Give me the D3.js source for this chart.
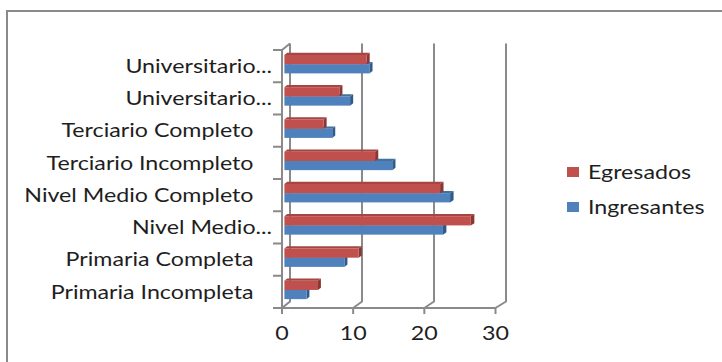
<!DOCTYPE html>
<html>
<head>
<meta charset="utf-8">
<script src="https://cdn.jsdelivr.net/npm/d3@7"></script>
<style>
  html, body { margin: 0; padding: 0; background: #fff; }
  svg { display: block; }
  text { font-family: Lato, "Open Sans", sans-serif; font-weight: 400; fill: #1e1e1e; }
</style>
</head>
<body>
<svg id="chart" width="722" height="362"></svg>
<script>
// Education level categories, listed bottom to top
const categories = [
  "Primaria Incompleta",
  "Primaria Completa",
  "Nivel Medio...",
  "Nivel Medio Completo",
  "Terciario Incompleto",
  "Terciario Completo",
  "Universitario...",
  "Universitario..."
];
const seriesNames = ["Egresados", "Ingresantes"];
const egresados   = [4.7, 10.4, 26.1, 21.8, 12.7, 5.5, 7.7, 11.5];
const ingresantes = [3.1, 8.4, 22.2, 23.2, 15.1, 6.7, 9.2, 11.9];
const xTicks = [0, 10, 20, 30];

const seriesColors = {
  Egresados:   { front: "#C0504D", top: "#A64542", side: "#8A3634" },
  Ingresantes: { front: "#4F81BD", top: "#44709F", side: "#2F5B8C" }
};
const values = { Egresados: egresados, Ingresantes: ingresantes };

const svg = d3.select("#chart");
const TEXT_SX = 1.255;     // horizontal text stretch
const FONT = 18.5;
const gridColor = "#8a8a8a";

// Outer chart frame
svg.append("rect")
  .attr("x", 7).attr("y", 11).attr("width", 760).attr("height", 400)
  .attr("fill", "none").attr("stroke", gridColor).attr("stroke-width", 2);

// Oblique 3D projection: front plane and back wall
const xFront = d3.scaleLinear().domain([0, 30]).range([282, 495.5]);
const xBack  = d3.scaleLinear().domain([0, 30]).range([290, 506]);
const DY = -6.5;
const px = (v, d) => xFront(v) * (1 - d) + xBack(v) * d;
const py = (yf, d) => yf + DY * d;

const y = d3.scaleBand().domain(d3.range(categories.length)).range([308, 50]);
const ySub = d3.scaleBand().domain(seriesNames).range([0, y.bandwidth()])
  .paddingInner(0).paddingOuter(0.75);

const yTop = 50, yBottom = 308;

const axes = svg.append("g")
  .attr("fill", "none").attr("stroke", gridColor).attr("stroke-width", 2)
  .attr("stroke-linejoin", "round");

// Back wall gridlines with floor diagonals and front ticks
xTicks.forEach(v => {
  axes.append("path").attr("d", d3.line()([
    [xBack(v), py(yTop, 1)],
    [xBack(v), py(yBottom, 1)],
    [xFront(v), yBottom],
    [xFront(v), yBottom + 6]
  ]));
});
// Floor front edge (value axis)
axes.append("line")
  .attr("x1", xFront(0)).attr("x2", xFront(30))
  .attr("y1", yBottom).attr("y2", yBottom);
// Category axis on the front plane
axes.append("path").attr("d", d3.line()([
  [xBack(0), py(yTop, 1)],
  [xFront(0), yTop],
  [xFront(0), yBottom]
]));
const boundaries = d3.range(categories.length + 1).map(i => i < categories.length ? y(i) + y.bandwidth() : y(i - 1));
boundaries.forEach(b => {
  axes.append("line")
    .attr("x1", xFront(0) - 9).attr("x2", xFront(0))
    .attr("y1", b).attr("y2", b);
});

// Bars: front face, top face and right end cap
const D0 = 0.3, D1 = 0.65;
const bars = svg.append("g");
d3.range(categories.length).forEach(i => {
  [...seriesNames].reverse().forEach(s => {
    const v = values[s][i];
    const c = seriesColors[s];
    const yt = py(y(i) + ySub(s), D0);
    const h = ySub.bandwidth();
    const x0 = px(0, D0), x1 = px(v, D0);
    const x0b = px(0, D1), x1b = px(v, D1);
    const dyb = DY * (D1 - D0);
    const g = bars.append("g");
    g.append("path").attr("fill", c.top).attr("d", d3.line()([
      [x0, yt], [x1, yt], [x1b, yt + dyb], [x0b, yt + dyb]
    ]) + "Z");
    g.append("path").attr("fill", c.side).attr("d", d3.line()([
      [x1, yt], [x1b, yt + dyb], [x1b, yt + h + dyb], [x1, yt + h]
    ]) + "Z");
    g.append("rect").attr("fill", c.front)
      .attr("x", x0).attr("y", yt).attr("width", x1 - x0).attr("height", h);
  });
});

function stretchedText(parent, x, yPos, str, anchor) {
  return parent.append("text")
    .attr("transform", `translate(${x},${yPos}) scale(${TEXT_SX},1)`)
    .attr("text-anchor", anchor)
    .attr("font-size", FONT)
    .text(str);
}

// Category labels
const labels = svg.append("g");
categories.forEach((name, i) => {
  const cy = y(i) + y.bandwidth() / 2 + FONT * 0.36;
  const xr = name.endsWith("...") ? xFront(0) - 10 : xFront(0) - 28.5;
  stretchedText(labels, xr, cy, name, "end");
});

// Value tick labels
const tickLabels = svg.append("g");
xTicks.forEach(v => stretchedText(tickLabels, xFront(v), 340, String(v), "middle"));

// Legend
const legend = svg.append("g");
seriesNames.forEach((s, k) => {
  const cy = 172 + k * 35;
  legend.append("rect")
    .attr("x", 567).attr("y", cy - 5).attr("width", 12).attr("height", 10)
    .attr("fill", seriesColors[s].front);
  stretchedText(legend, 588, cy + FONT * 0.36, s, "start");
});
</script>
</body>
</html>
